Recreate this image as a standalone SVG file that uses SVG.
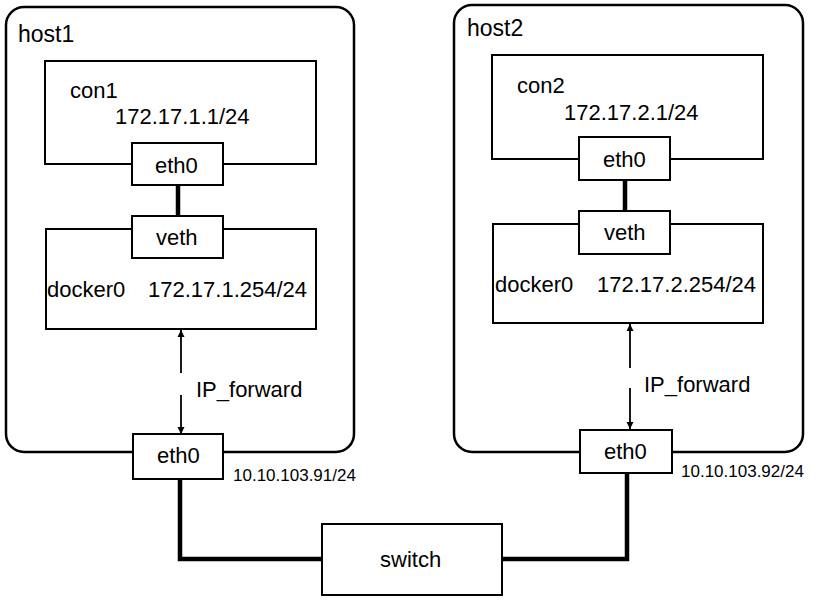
<svg xmlns="http://www.w3.org/2000/svg" width="818" height="604" viewBox="0 0 818 604">
<style>
.host{fill:#fff;stroke:#000;stroke-width:2.5}
.box{fill:#fff;stroke:#000;stroke-width:2}
.t{font-family:"Liberation Sans",Arial,sans-serif;font-size:22px;fill:#000}
.ht{font-family:"Liberation Sans",Arial,sans-serif;font-size:23px;fill:#000}
.ip{font-family:"Liberation Sans",Arial,sans-serif;font-size:17px;fill:#000}
.wire{fill:none;stroke:#000;stroke-width:4.5}
.arr{fill:none;stroke:#000;stroke-width:1.8}
</style>
<defs>
<marker id="ah" viewBox="0 0 10 10" refX="10" refY="5" markerWidth="7" markerHeight="8" markerUnits="userSpaceOnUse" orient="auto">
<path d="M0,0 L10,5 L0,10 z" fill="#000"/>
</marker>
</defs>
<g id="host1">
<rect class="host" x="6" y="7" width="348" height="445" rx="18"/>
<text class="ht" x="18" y="42">host1</text>
</g>
<g id="host2">
<rect class="host" x="454" y="5" width="349" height="447" rx="18"/>
<text class="ht" x="467" y="36">host2</text>
</g>
<g id="con1">
<rect class="box" x="45" y="61" width="271" height="103"/>
<text class="t" x="70" y="98">con1</text>
<text class="t" x="115" y="124">172.17.1.1/24</text>
</g>
<g id="docker0-1">
<rect class="box" x="46" y="229" width="270" height="100"/>
<text class="t" x="47" y="297">docker0</text>
<text class="t" x="148" y="297">172.17.1.254/24</text>
</g>
<g id="con2">
<rect class="box" x="492" y="55" width="271" height="104"/>
<text class="t" x="517" y="93">con2</text>
<text class="t" x="564" y="120">172.17.2.1/24</text>
</g>
<g id="docker0-2">
<rect class="box" x="493" y="224" width="270" height="99"/>
<text class="t" x="495" y="292">docker0</text>
<text class="t" x="597" y="292">172.17.2.254/24</text>
</g>
<g id="connectors">
<line class="wire" x1="178" y1="185" x2="178" y2="216"/>
<line class="wire" x1="625" y1="180" x2="625" y2="211"/>
<line class="arr" x1="181" y1="373" x2="181" y2="330" marker-end="url(#ah)"/>
<line class="arr" x1="181" y1="395" x2="181" y2="434" marker-end="url(#ah)"/>
<line class="arr" x1="630" y1="368" x2="630" y2="324" marker-end="url(#ah)"/>
<line class="arr" x1="630" y1="388" x2="630" y2="429" marker-end="url(#ah)"/>
<polyline class="wire" points="180,479 180,559 322,559"/>
<polyline class="wire" points="627,473 627,559 502,559"/>
<text class="t" x="196" y="397">IP_forward</text>
<text class="t" x="644" y="392">IP_forward</text>
</g>
<g id="eth0-con1">
<rect class="box" x="132" y="143" width="91" height="42"/>
<text class="t" x="155" y="173">eth0</text>
</g>
<g id="veth1">
<rect class="box" x="132" y="216" width="91" height="42"/>
<text class="t" x="156" y="245">veth</text>
</g>
<g id="eth0-con2">
<rect class="box" x="579" y="137" width="91" height="43"/>
<text class="t" x="603" y="167">eth0</text>
</g>
<g id="veth2">
<rect class="box" x="579" y="211" width="91" height="43"/>
<text class="t" x="604" y="240">veth</text>
</g>
<g id="eth0-host1">
<rect class="box" x="133" y="434" width="90" height="45"/>
<text class="t" x="157" y="463">eth0</text>
<text class="ip" x="233" y="481">10.10.103.91/24</text>
</g>
<g id="eth0-host2">
<rect class="box" x="580" y="430" width="92" height="43"/>
<text class="t" x="604" y="459">eth0</text>
<text class="ip" x="681" y="477">10.10.103.92/24</text>
</g>
<g id="switch">
<rect class="box" x="322" y="524" width="180" height="71"/>
<text class="t" x="380" y="567">switch</text>
</g>
</svg>
